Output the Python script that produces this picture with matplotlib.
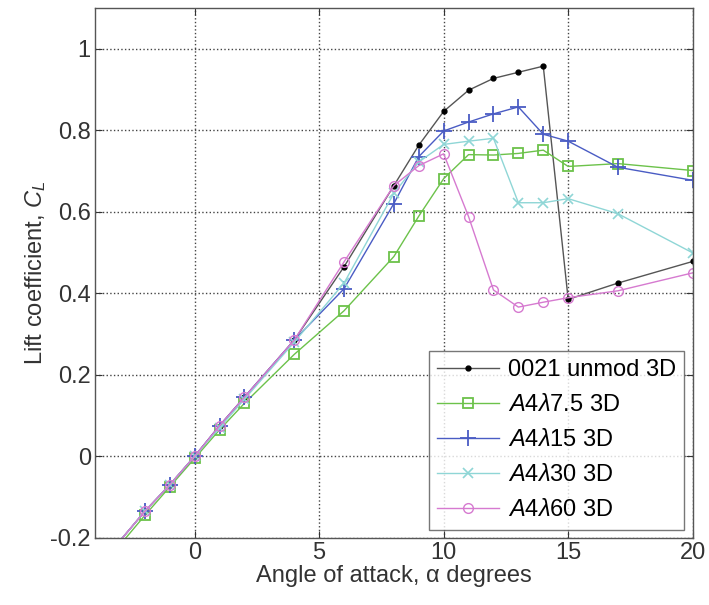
import matplotlib
matplotlib.use('Agg')
import matplotlib.pyplot as plt

plt.rcParams['font.family'] = ['Liberation Sans', 'DejaVu Sans']
plt.rcParams['mathtext.fontset'] = 'custom'
plt.rcParams['mathtext.rm'] = 'Liberation Sans'
plt.rcParams['mathtext.it'] = 'Liberation Sans:italic'

#angles of attack (degrees)
alpha = [-4, -2, -1, 0, 1, 2, 4, 6, 8, 9, 10, 11, 12, 13, 14, 15, 17, 20]

#lift coefficients
cl_unmod = [-0.28, -0.135, -0.07, 0.0, 0.075, 0.145, 0.285, 0.465, 0.664, 0.763,
            0.846, 0.898, 0.927, 0.942, 0.957, 0.385, 0.425, 0.478]
cl_75 = [-0.29, -0.145, -0.075, -0.005, 0.065, 0.13, 0.25, 0.357, 0.49, 0.589,
         0.681, 0.74, 0.739, 0.743, 0.751, 0.711, 0.718, 0.701]
cl_15 = [-0.28, -0.135, -0.07, 0.0, 0.075, 0.145, 0.285, 0.411, 0.62, 0.735,
         0.798, 0.82, 0.84, 0.857, 0.79, 0.773, 0.709, 0.677]
cl_30 = [-0.28, -0.135, -0.07, 0.0, 0.07, 0.14, 0.28, 0.425, 0.645, 0.722,
         0.765, 0.773, 0.78, 0.622, 0.622, 0.632, 0.595, 0.499]
cl_60 = [-0.28, -0.135, -0.07, 0.0, 0.075, 0.145, 0.285, 0.477, 0.664, 0.713,
         0.742, 0.588, 0.408, 0.366, 0.378, 0.389, 0.406, 0.45]

labels = ['0021 unmod 3D',
          r'$\mathit{A4\lambda}$7.5 3D',
          r'$\mathit{A4\lambda}$15 3D',
          r'$\mathit{A4\lambda}$30 3D',
          r'$\mathit{A4\lambda}$60 3D']

fig = plt.figure(figsize=(7.09, 6.05), dpi=100)
ax = fig.add_axes([0.134, 0.111, 0.843, 0.876])

ax.plot(alpha, cl_unmod, color='#555555', lw=1.0, marker='.', ms=7,
        mfc='black', mec='black', label=labels[0])
ax.plot(alpha, cl_75, color='#6cc24a', lw=1.0, marker='s', ms=6.5,
        mfc='none', mew=1.3, label=labels[1])
ax.plot(alpha, cl_15, color='#4a5cc4', lw=1.0, marker='+', ms=11,
        mew=1.3, label=labels[2])
ax.plot(alpha, cl_30, color='#8fd6d6', lw=1.0, marker='x', ms=6.5,
        mew=1.2, label=labels[3])
ax.plot(alpha, cl_60, color='#d67ad0', lw=1.0, marker='o', ms=7,
        mfc='none', mew=1.0, label=labels[4])

ax.set_xlim(-4, 20)
ax.set_ylim(-0.2, 1.1)
ax.set_xticks([0, 5, 10, 15, 20])
ax.set_yticks([-0.2, 0, 0.2, 0.4, 0.6, 0.8, 1])
ax.set_yticklabels(['-0.2', '0', '0.2', '0.4', '0.6', '0.8', '1'])

ax.grid(True, linestyle=':', color='#444444', lw=1.0)
ax.tick_params(direction='in', top=True, right=True, labelsize=17,
               colors='#333333', length=5, pad=3)
for sp in ax.spines.values():
    sp.set_color('#555555')
    sp.set_linewidth(1.0)

ax.set_xlabel('Angle of attack, α degrees', fontsize=17,
              color='#333333', labelpad=1)
ax.set_ylabel(r'Lift coefficient, $C_{\mathit{L}}$', fontsize=17,
              color='#333333', labelpad=2)

leg = ax.legend(loc='lower right', fontsize=17, frameon=True, fancybox=False,
                handlelength=2.6, borderaxespad=0.35, labelspacing=0.55,
                borderpad=0.35, handletextpad=0.4)
leg.get_frame().set_edgecolor('#555555')
leg.get_frame().set_linewidth(1.0)

fig.savefig('out.png', dpi=100)
